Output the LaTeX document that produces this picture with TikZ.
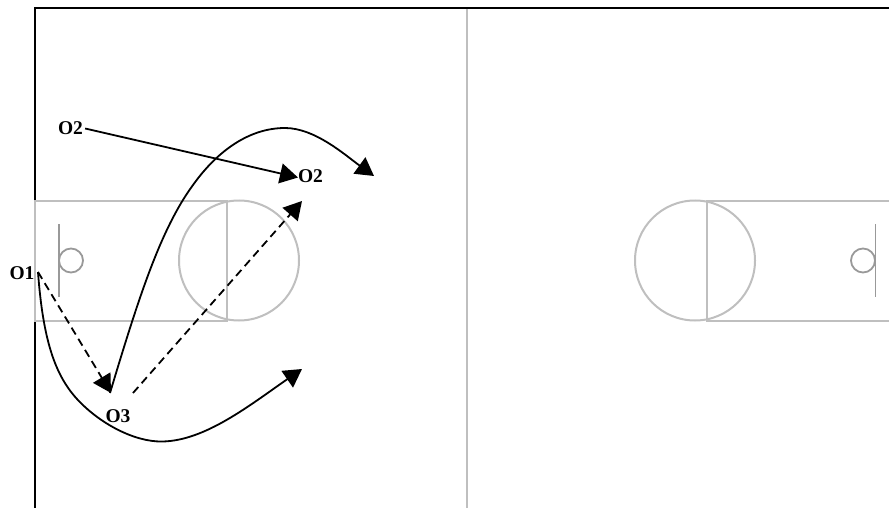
\documentclass[tikz,border=0pt]{standalone}
\usepackage{fontspec}
\setmainfont{Liberation Serif}
\usetikzlibrary{arrows.meta}
\tikzset{
  court/.style={draw=black!25!white,line width=2pt},
  rim/.style={draw=black!40!white,line width=1.8pt},
  wall/.style={draw=black,line width=2pt},
  play/.style={draw=black,line width=1.8pt,-{Triangle[length=18pt,width=20pt]}},
  pass/.style={play,dash pattern=on 8pt off 5pt},
  lbl/.style={inner sep=0pt,font=\bfseries\fontsize{19.5pt}{21pt}\selectfont}
}
\begin{document}
\begin{tikzpicture}[x=1pt,y=-1pt]
\useasboundingbox (0,0) rectangle (889,508);
% walls
\draw[wall] (35,508) -- (35,8) -- (889,8);
\draw[court] (467,9) -- (467,508);
% left half court
\draw[court,fill=white] (35,200.5) rectangle (227,320.5);
\draw[court] (239,260.5) circle[radius=60];
\draw[rim] (59,224) -- (59,297);
\draw[rim] (71,260.5) circle[radius=12];
% right half court
\draw[court] (889,200.5) -- (707,200.5) -- (707,320.5) -- (889,320.5);
\draw[court] (695,260.5) circle[radius=60];
\draw[rim] (875.5,224) -- (875.5,297);
\draw[rim] (863,260.5) circle[radius=12];
% labels
\node[lbl] (o2a) at (70.5,128) {O2};
\node[lbl] (o2b) at (310.5,176) {O2};
\node[lbl] (o1) at (22,273) {O1};
\node[lbl] (o3) at (118,416) {O3};
% free ends
\coordinate (s1) at (38,272);
\coordinate (p1) at (110,393);
\coordinate (s3) at (133,393);
\coordinate (e1) at (302,369);
\coordinate (e2) at (374,176);
\coordinate (e3) at (302,201);
\coordinate (e4) at (298,177.5);
\coordinate (e5) at (111,393);
% connectors
\draw[play] (o2a.east) ++(2,0.5) -- (e4);
\draw[pass] (s1) -- (e5);
\draw[pass] (s3) -- (e3);
\draw[play] (s1) .. controls (43,340) and (55,375) .. (77,399)
  .. controls (100,424) and (135,442) .. (162,441.5)
  .. controls (205,441) and (250,405) .. (e1);
\draw[play] (p1) .. controls (138,300) and (160,230) .. (193,185)
  .. controls (218,150) and (250,128) .. (285,128)
  .. controls (315,128) and (345,155) .. (e2);
\end{tikzpicture}
\end{document}
